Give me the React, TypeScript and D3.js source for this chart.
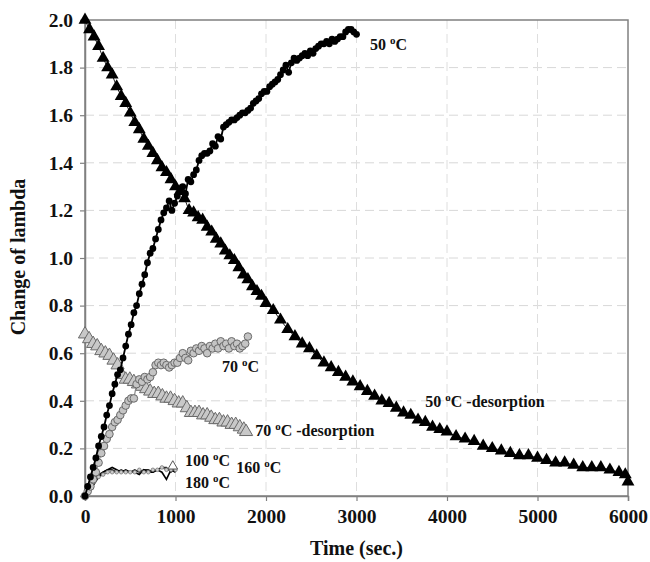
import React, { useEffect, useRef } from "react";
import * as d3 from "d3";

// 50 °C absorption, sampled every 30 s from 0 to 3000 s
const abs50Step = 30;
const abs50 = [
  0.0, 0.04, 0.08, 0.12, 0.16, 0.21, 0.25, 0.29, 0.34, 0.38,
  0.43, 0.47, 0.51, 0.53, 0.58, 0.63, 0.68, 0.72, 0.77, 0.8,
  0.85, 0.89, 0.93, 0.98, 1.02, 1.04, 1.08, 1.12, 1.16, 1.19,
  1.21, 1.24, 1.2, 1.23, 1.26, 1.28, 1.3, 1.27, 1.33, 1.32,
  1.35, 1.37, 1.41, 1.43, 1.44, 1.44, 1.45, 1.48, 1.47, 1.51,
  1.5, 1.55, 1.56, 1.57, 1.58, 1.58, 1.59, 1.6, 1.61, 1.61,
  1.62, 1.63, 1.65, 1.66, 1.67, 1.69, 1.7, 1.7, 1.72, 1.73,
  1.74, 1.75, 1.77, 1.79, 1.81, 1.78, 1.82, 1.84, 1.83, 1.84,
  1.85, 1.86, 1.85, 1.87, 1.86, 1.88, 1.89, 1.9, 1.9, 1.91,
  1.9, 1.92, 1.91, 1.92, 1.93, 1.93, 1.95, 1.96, 1.96, 1.95,
  1.94,
];

// 50 °C desorption [time, value]
const des50: [number, number][] = [
  [0, 2.0], [50, 1.96], [100, 1.93], [150, 1.89], [200, 1.84], [250, 1.8],
  [300, 1.77], [350, 1.72], [400, 1.68], [450, 1.65], [500, 1.61], [550, 1.57],
  [600, 1.54], [650, 1.5], [700, 1.47], [750, 1.44], [800, 1.41], [850, 1.38],
  [900, 1.36], [950, 1.33], [1000, 1.3], [1050, 1.28], [1100, 1.25], [1150, 1.2],
  [1200, 1.19], [1250, 1.17], [1300, 1.16], [1350, 1.13], [1400, 1.11], [1450, 1.08],
  [1500, 1.06], [1550, 1.03], [1600, 1.01], [1650, 0.99], [1700, 0.96], [1750, 0.93],
  [1800, 0.91], [1850, 0.88], [1900, 0.86], [1950, 0.84], [2000, 0.81], [2080, 0.78],
  [2160, 0.74], [2240, 0.7], [2320, 0.67], [2400, 0.64], [2480, 0.62], [2560, 0.59],
  [2640, 0.56], [2720, 0.54], [2800, 0.52], [2880, 0.5], [2960, 0.48], [3040, 0.46],
  [3120, 0.44], [3200, 0.42], [3280, 0.4], [3360, 0.39], [3440, 0.37], [3520, 0.35],
  [3600, 0.34], [3680, 0.32], [3760, 0.31], [3840, 0.29], [3920, 0.28], [4000, 0.27],
  [4100, 0.25], [4200, 0.24], [4300, 0.23], [4400, 0.21], [4500, 0.2], [4600, 0.19],
  [4700, 0.18], [4800, 0.17], [4900, 0.17], [5000, 0.16], [5100, 0.15], [5200, 0.14],
  [5300, 0.14], [5400, 0.13], [5500, 0.12], [5600, 0.12], [5700, 0.12], [5800, 0.11],
  [5900, 0.1], [5970, 0.09], [6000, 0.06],
];

// 70 °C absorption, every 30 s from 0 to 1800 s
const abs70Step = 30;
const abs70 = [
  0.0, 0.02, 0.04, 0.07, 0.1, 0.14, 0.18, 0.21, 0.24, 0.26,
  0.29, 0.31, 0.32, 0.34, 0.36, 0.38, 0.4, 0.41, 0.41, 0.47,
  0.49, 0.48, 0.5, 0.49, 0.5, 0.52, 0.55, 0.56, 0.55, 0.56,
  0.55, 0.54, 0.55, 0.56, 0.56, 0.58, 0.6, 0.58, 0.57, 0.61,
  0.6, 0.62, 0.61, 0.63, 0.62, 0.6, 0.63, 0.62, 0.64, 0.62,
  0.65, 0.63, 0.64, 0.62, 0.65, 0.63, 0.64, 0.62, 0.63, 0.64,
  0.67,
];

// 70 °C desorption [time, value]
const des70: [number, number][] = [
  [0, 0.68], [45, 0.66], [90, 0.64], [135, 0.63], [180, 0.61], [225, 0.6],
  [270, 0.59], [315, 0.57], [360, 0.55], [405, 0.51], [450, 0.49], [495, 0.49],
  [540, 0.48], [585, 0.47], [630, 0.46], [675, 0.45], [720, 0.44], [765, 0.43],
  [810, 0.43], [855, 0.42], [900, 0.41], [945, 0.41], [990, 0.4], [1035, 0.39],
  [1080, 0.39], [1125, 0.37], [1170, 0.35], [1215, 0.35], [1260, 0.35], [1305, 0.34],
  [1350, 0.34], [1395, 0.33], [1440, 0.32], [1485, 0.32], [1530, 0.31], [1575, 0.31],
  [1620, 0.3], [1665, 0.3], [1710, 0.29], [1755, 0.28], [1780, 0.27],
];

// high temperature runs, every 50 s from 0 to 1000 s
const highStep = 50;
const abs100 = [0, 0.03, 0.06, 0.08, 0.09, 0.1, 0.1, 0.1, 0.1, 0.1, 0.1, 0.1, 0.11, 0.1, 0.1, 0.11, 0.11, 0.12, 0.11, 0.11, 0.11];
const abs160 = [0, 0.04, 0.07, 0.09, 0.1, 0.11, 0.11, 0.1, 0.11, 0.1, 0.1, 0.11, 0.1, 0.11, 0.11, 0.1, 0.11, 0.12, 0.12, 0.1, 0.12];
const abs180 = [0, 0.02, 0.05, 0.08, 0.1, 0.11, 0.12, 0.11, 0.1, 0.11, 0.1, 0.1, 0.09, 0.11, 0.1, 0.1, 0.11, 0.1, 0.07, 0.11, 0.1];

const xTicks = [0, 1000, 2000, 3000, 4000, 5000, 6000];
const yTicks = [0, 0.2, 0.4, 0.6, 0.8, 1.0, 1.2, 1.4, 1.6, 1.8, 2.0];

// series labels: [temperature, suffix, time, value]
const labels: [string, string, number, number][] = [
  ["50 ", "C", 3150, 1.875],
  ["70 ", "C", 1515, 0.52],
  ["70 ", "C -desorption", 1880, 0.252],
  ["50 ", "C -desorption", 3760, 0.374],
  ["100 ", "C", 1105, 0.126],
  ["180 ", "C", 1105, 0.034],
  ["160 ", "C", 1670, 0.097],
];

const toPairs = (vals: number[], step: number): [number, number][] =>
  vals.map((v, i) => [i * step, v]);

const App = () => {
  const svgRef = useRef<SVGSVGElement>(null);

  useEffect(() => {
    const W = 650;
    const H = 562;
    const margin = { top: 20, right: 22, bottom: 66, left: 85 };
    const width = W - margin.left - margin.right;
    const height = H - margin.top - margin.bottom;
    const font = "'Liberation Serif', 'Times New Roman', serif";

    const svg = d3.select(svgRef.current);
    svg.selectAll("*").remove();

    const x = d3.scaleLinear().domain([0, 6000]).range([0, width]);
    const y = d3.scaleLinear().domain([0, 2]).range([height, 0]);

    const g = svg.append("g").attr("transform", `translate(${margin.left},${margin.top})`);

    // dashed grid
    g.selectAll(".hgrid")
      .data(yTicks.slice(1, -1))
      .enter()
      .append("line")
      .attr("x1", 0)
      .attr("x2", width)
      .attr("y1", (d) => y(d))
      .attr("y2", (d) => y(d))
      .attr("stroke", "#d8d8d8")
      .attr("stroke-dasharray", "9,5");
    g.selectAll(".vgrid")
      .data(xTicks.slice(1, -1))
      .enter()
      .append("line")
      .attr("x1", (d) => x(d))
      .attr("x2", (d) => x(d))
      .attr("y1", 0)
      .attr("y2", height)
      .attr("stroke", "#dedede")
      .attr("stroke-dasharray", "9,5");

    // frame
    g.append("rect")
      .attr("width", width)
      .attr("height", height)
      .attr("fill", "none")
      .attr("stroke", "#808080")
      .attr("stroke-width", 1.5);

    // axes
    const xAxis = g
      .append("g")
      .attr("transform", `translate(0,${height})`)
      .call(d3.axisBottom(x).tickValues(xTicks).tickSize(5).tickPadding(8).tickFormat(d3.format("d")));
    const yAxis = g
      .append("g")
      .call(d3.axisLeft(y).tickValues(yTicks).tickSize(5).tickPadding(7).tickFormat(d3.format(".1f")));
    [xAxis, yAxis].forEach((a) => {
      a.select(".domain").attr("stroke", "#808080").attr("stroke-width", 1.5);
      a.selectAll(".tick line").attr("stroke", "#808080").attr("stroke-width", 1.2);
      a.selectAll(".tick text")
        .attr("fill", "#111")
        .style("font-family", font)
        .style("font-weight", "bold")
        .style("font-size", "19.5px");
    });

    // axis titles
    svg.append("text")
      .attr("x", margin.left + width / 2)
      .attr("y", 555)
      .attr("text-anchor", "middle")
      .style("font-family", font)
      .style("font-weight", "bold")
      .style("font-size", "20px")
      .attr("fill", "#111")
      .text("Time (sec.)");
    svg.append("text")
      .attr("transform", `translate(25,${257}) rotate(-90)`)
      .attr("text-anchor", "middle")
      .style("font-family", font)
      .style("font-weight", "bold")
      .style("font-size", "20px")
      .attr("fill", "#111")
      .text("Change of lambda");

    const line = d3
      .line<[number, number]>()
      .x((d) => x(d[0]))
      .y((d) => y(d[1]));

    const tri = d3.symbol().type(d3.symbolTriangle);

    // high temperature runs (lines with small markers)
    const highRuns: [number[], string, number][] = [
      [abs100, "#777", 1.6],
      [abs160, "#222", 1.4],
      [abs180, "#000", 1.6],
    ];
    highRuns.forEach(([vals, color, w]) => {
      g.append("path")
        .datum(toPairs(vals, highStep))
        .attr("fill", "none")
        .attr("stroke", color)
        .attr("stroke-width", w)
        .attr("d", line);
    });
    g.selectAll(".h100")
      .data(toPairs(abs100, highStep))
      .enter()
      .append("circle")
      .attr("cx", (d) => x(d[0]))
      .attr("cy", (d) => y(d[1]))
      .attr("r", 1.8)
      .attr("fill", "#ccc")
      .attr("stroke", "#777")
      .attr("stroke-width", 0.8);
    g.append("path")
      .attr("transform", `translate(${x(970)},${y(0.125)})`)
      .attr("d", tri.size(40)())
      .attr("fill", "#fff")
      .attr("stroke", "#555")
      .attr("stroke-width", 1);

    // 70 °C desorption
    g.append("path")
      .datum(des70)
      .attr("fill", "none")
      .attr("stroke", "#888")
      .attr("stroke-width", 1)
      .attr("d", line);
    g.selectAll(".d70")
      .data(des70)
      .enter()
      .append("path")
      .attr("transform", (d) => `translate(${x(d[0])},${y(d[1])})`)
      .attr("d", tri.size(75)())
      .attr("fill", "#c8c8c8")
      .attr("stroke", "#6a6a6a")
      .attr("stroke-width", 1);

    // 70 °C absorption
    const a70 = toPairs(abs70, abs70Step);
    g.append("path")
      .datum(a70)
      .attr("fill", "none")
      .attr("stroke", "#888")
      .attr("stroke-width", 1.2)
      .attr("d", line);
    g.selectAll(".a70")
      .data(a70)
      .enter()
      .append("circle")
      .attr("cx", (d) => x(d[0]))
      .attr("cy", (d) => y(d[1]))
      .attr("r", 3.8)
      .attr("fill", "#c4c4c4")
      .attr("stroke", "#6a6a6a")
      .attr("stroke-width", 1);

    // 50 °C desorption
    g.append("path")
      .datum(des50)
      .attr("fill", "none")
      .attr("stroke", "#222")
      .attr("stroke-width", 1)
      .attr("d", line);
    g.selectAll(".d50")
      .data(des50)
      .enter()
      .append("path")
      .attr("transform", (d) => `translate(${x(d[0])},${y(d[1])})`)
      .attr("d", tri.size(72)())
      .attr("fill", "#000");

    // 50 °C absorption
    const a50 = toPairs(abs50, abs50Step);
    g.append("path")
      .datum(a50)
      .attr("fill", "none")
      .attr("stroke", "#000")
      .attr("stroke-width", 1.8)
      .attr("d", line);
    g.selectAll(".a50")
      .data(a50)
      .enter()
      .append("circle")
      .attr("cx", (d) => x(d[0]))
      .attr("cy", (d) => y(d[1]))
      .attr("r", 3.4)
      .attr("fill", "#000");

    // series labels
    labels.forEach(([temp, rest, t, v]) => {
      const txt = g
        .append("text")
        .attr("x", x(t))
        .attr("y", y(v))
        .attr("fill", "#111")
        .style("font-family", font)
        .style("font-weight", "bold")
        .style("font-size", "16px");
      txt.append("tspan").text(temp);
      txt.append("tspan").attr("dy", -6).style("font-size", "11px").text("o");
      txt.append("tspan").attr("dy", 6).text(rest);
    });
  }, []);

  return (
    <svg
      ref={svgRef}
      width={650}
      height={562}
      style={{ position: "absolute", left: 0, top: 0, background: "#fff" }}
    />
  );
};

export default App;
